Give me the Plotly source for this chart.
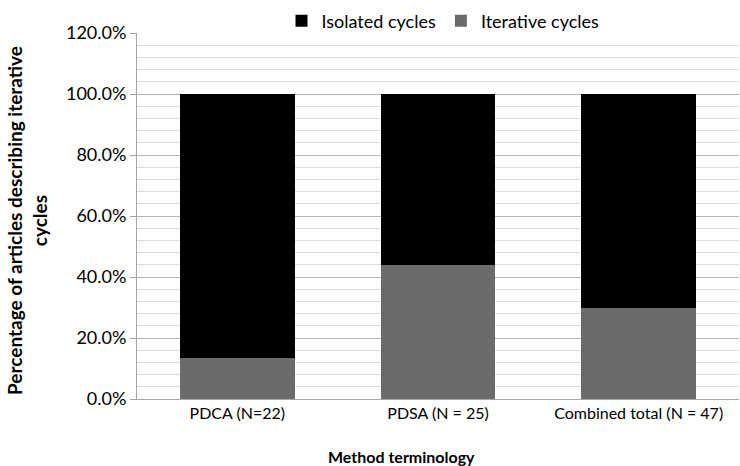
import plotly.graph_objects as go

categories = ["PDCA (N=22)", "PDSA (N = 25)", "Combined total (N = 47)"]
iterative = [13.6, 44.0, 29.8]
isolated = [86.4, 56.0, 70.2]
y_ticks = [0, 20, 40, 60, 80, 100, 120]

FONT = "Lato, Open Sans, sans-serif"
PW = 602  # plot width in px
PH = 366  # plot height in px

fig = go.Figure()
fig.add_trace(go.Bar(name="Iterative cycles", x=categories, y=iterative,
                     marker=dict(color="#6b6b6b", line=dict(width=0))))
fig.add_trace(go.Bar(name="Isolated cycles", x=categories, y=isolated,
                     marker=dict(color="#000000", line=dict(width=0))))

fig.update_layout(
    barmode="stack",
    bargap=0.43,
    width=740, height=466,
    margin=dict(l=137, r=1, t=33, b=67, autoexpand=False),
    plot_bgcolor="white", paper_bgcolor="white",
    font=dict(family=FONT, color="#000000"),
    showlegend=True,
    legend=dict(orientation="h", x=(443 - 137) / PW, xanchor="center", y=1.0 + 12 / PH, yanchor="middle",
                traceorder="reversed", font=dict(size=18, family=FONT),
                itemwidth=30, bgcolor="rgba(0,0,0,0)"),
    xaxis=dict(showline=True, linecolor="#a6a6a6", linewidth=1,
               tickfont=dict(size=16, family=FONT), ticks=""),
    yaxis=dict(range=[0, 120], tickvals=y_ticks,
               ticktext=[f"{v:.1f}%" for v in y_ticks],
               tickfont=dict(size=18, family=FONT),
               showline=True, linecolor="#a6a6a6", linewidth=1,
               ticks="outside", ticklen=6, tickcolor="#a6a6a6",
               gridcolor="#b4b4b4", gridwidth=1,
               minor=dict(dtick=4, showgrid=True, gridcolor="#dcdcdc", gridwidth=1, ticks=""),
               zeroline=False),
    annotations=[
        dict(text="<b>Percentage of articles describing iterative<br>cycles</b>",
             xref="paper", yref="paper", x=(27 - 137) / PW, y=(399 - 221) / PH,
             xanchor="center", yanchor="middle",
             textangle=-90, showarrow=False, font=dict(size=19, family=FONT)),
        dict(text="<b>Method terminology</b>", xref="paper", yref="paper",
             x=(401 - 137) / PW, y=-(456 - 399) / PH, xanchor="center", yanchor="middle",
             showarrow=False, font=dict(size=16, family=FONT)),
    ],
)

fig.write_html("out.html", config={"displayModeBar": False},
               post_script="document.body.style.margin='0px';")
